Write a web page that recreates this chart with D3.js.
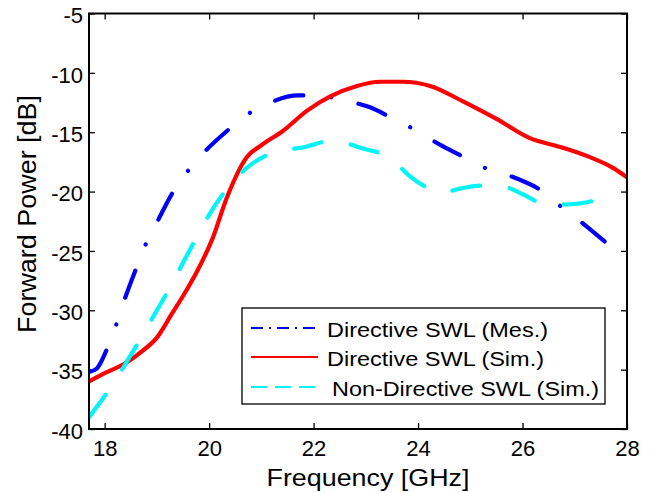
<!DOCTYPE html>
<html>
<head>
<meta charset="utf-8">
<script src="https://cdn.jsdelivr.net/npm/d3@7"></script>
<style>
  body { margin: 0; background: #fff; }
  svg { display: block; }
  text { font-family: "Liberation Sans", Arial, sans-serif; fill: #000; }
</style>
</head>
<body>
<script>
// values
const mesFreq = [17.7, 17.85, 18.06, 18.23, 18.38, 18.61, 18.79, 19.0, 19.3, 19.57, 19.88, 20.34, 20.7, 21.12, 21.7, 22.18, 22.44, 23.08, 23.5, 23.9, 24.48, 24.88, 25.28, 25.89, 26.28, 26.66, 27.16, 27.73];
const mesPower = [-35.2, -34.9, -33.1, -31.1, -29.1, -26.4, -24.4, -22.6, -20.1, -18.4, -16.8, -14.9, -13.6, -12.6, -11.9, -11.9, -12.2, -12.9, -13.8, -14.7, -16.2, -17.1, -18.0, -18.9, -19.7, -21.0, -22.7, -24.8];

const simFreq = [17.7, 18.0, 18.42, 18.7, 19.0, 19.3, 19.5, 19.76, 20.07, 20.34, 20.72, 21.0, 21.41, 21.87, 22.31, 22.83, 23.27, 23.71, 24.23, 24.86, 25.51, 26.14, 26.77, 27.29, 27.73, 28.0];
const simPower = [-36.0, -35.3, -34.4, -33.5, -32.3, -30.2, -28.8, -26.8, -23.9, -20.5, -17.1, -16.1, -14.9, -13.2, -12.0, -11.1, -10.75, -10.75, -11.1, -12.4, -13.9, -15.5, -16.3, -17.1, -18.0, -18.8];

const nonFreq = [17.7, 18.1, 18.4, 18.7, 19.0, 19.25, 19.5, 19.78, 20.05, 20.43, 20.72, 21.03, 21.31, 21.77, 22.37, 22.89, 23.5, 23.84, 24.23, 24.42, 24.86, 25.24, 25.57, 25.99, 26.52, 26.77, 27.1, 27.73];
const nonPower = [-39.0, -36.6, -34.5, -32.3, -30.0, -28.1, -26.0, -23.7, -21.6, -19.3, -18.0, -17.1, -16.6, -16.3, -15.7, -16.3, -17.3, -18.7, -19.8, -20.1, -19.7, -19.5, -19.5, -20.2, -21.2, -21.1, -21.0, -20.3];

const xTicks = [18, 20, 22, 24, 26, 28];
const yTicks = [-40, -35, -30, -25, -20, -15, -10, -5];
const legendLabels = ["Directive SWL (Mes.)", "Directive SWL (Sim.)", " Non-Directive SWL (Sim.)"];

const W = 652, H = 493;
const pLeft = 89, pRight = 627, pTop = 13.5, pBottom = 429;

const svg = d3.select("body").append("svg")
    .attr("width", W)
    .attr("height", H);

const x = d3.scaleLinear().domain([17.7, 28]).range([pLeft, pRight]);
const y = d3.scaleLinear().domain([-40, -5]).range([pBottom, pTop]);

// axes, ticks point inward like matlab
const fmt = d => String(d);
const gx = svg.append("g")
    .attr("transform", "translate(0," + pBottom + ")")
    .call(d3.axisBottom(x).tickValues(xTicks).tickSizeInner(-6).tickSizeOuter(0).tickPadding(11).tickFormat(fmt));
const gxTop = svg.append("g")
    .attr("transform", "translate(0," + pTop + ")")
    .call(d3.axisTop(x).tickValues(xTicks).tickSizeInner(-6).tickSizeOuter(0).tickFormat(""));
const gy = svg.append("g")
    .attr("transform", "translate(" + pLeft + ",0)")
    .call(d3.axisLeft(y).tickValues(yTicks).tickSizeInner(-6).tickSizeOuter(0).tickPadding(6).tickFormat(fmt));
const gyRight = svg.append("g")
    .attr("transform", "translate(" + pRight + ",0)")
    .call(d3.axisRight(y).tickValues(yTicks).tickSizeInner(-6).tickSizeOuter(0).tickFormat(""));

[gx, gxTop, gy, gyRight].forEach(g => {
    g.select(".domain").remove();
    g.selectAll(".tick line").attr("stroke", "#000").attr("stroke-width", 1.3);
    g.selectAll(".tick text")
        .attr("font-size", 22)
        .attr("font-family", "'Liberation Sans', Arial, sans-serif")
        .attr("fill", "#000");
});
gy.selectAll(".tick text").attr("dy", "0.42em");

// data lines
svg.append("clipPath").attr("id", "plotclip")
    .append("rect")
    .attr("x", pLeft).attr("y", pTop)
    .attr("width", pRight - pLeft).attr("height", pBottom - pTop);

const line = d3.line()
    .x(d => x(d[0]))
    .y(d => y(d[1]))
    .curve(d3.curveMonotoneX);

const series = [
    { f: mesFreq, p: mesPower, color: "#0000f5", dash: "29,28,0.1,28", legendDash: "12,6,2,6" },
    { f: simFreq, p: simPower, color: "#ff0000", dash: null, legendDash: null },
    { f: nonFreq, p: nonPower, color: "#00f5f5", dash: "28,30", legendDash: "16,8" }
];

const plot = svg.append("g").attr("clip-path", "url(#plotclip)");
series.forEach(s => {
    plot.append("path")
        .datum(d3.zip(s.f, s.p))
        .attr("d", line)
        .attr("fill", "none")
        .attr("stroke", s.color)
        .attr("stroke-width", 4.2)
        .attr("stroke-linecap", "round")
        .attr("stroke-linejoin", "round")
        .attr("stroke-dasharray", s.dash);
});

// frame
svg.append("rect")
    .attr("x", pLeft).attr("y", pTop)
    .attr("width", pRight - pLeft).attr("height", pBottom - pTop)
    .attr("fill", "none")
    .attr("stroke", "#000")
    .attr("stroke-width", 2);

// legend
const legend = svg.append("g");
legend.append("rect")
    .attr("x", 242).attr("y", 308)
    .attr("width", 363).attr("height", 96)
    .attr("fill", "#fff")
    .attr("stroke", "#000")
    .attr("stroke-width", 1.3);

const rowY = [328, 357, 387];
const textX = [327, 327, 332];
const textLen = [221, 217, 267];
series.forEach((s, i) => {
    legend.append("line")
        .attr("x1", 251).attr("x2", 318)
        .attr("y1", rowY[i]).attr("y2", rowY[i])
        .attr("stroke", s.color)
        .attr("stroke-width", 2.2)
        .attr("stroke-dasharray", s.legendDash);
    legend.append("text")
        .attr("x", textX[i])
        .attr("y", rowY[i] + 8.5)
        .attr("font-size", 21)
        .attr("textLength", textLen[i])
        .attr("lengthAdjust", "spacingAndGlyphs")
        .text(legendLabels[i].trim());
});

// axis labels
svg.append("text")
    .attr("x", 266.5)
    .attr("y", 485.5)
    .attr("font-size", 24)
    .attr("textLength", 203)
    .attr("lengthAdjust", "spacingAndGlyphs")
    .text("Frequency [GHz]");

svg.append("text")
    .attr("transform", "translate(36,333) rotate(-90)")
    .attr("x", 0).attr("y", 0)
    .attr("font-size", 25)
    .attr("textLength", 238)
    .attr("lengthAdjust", "spacingAndGlyphs")
    .text("Forward Power [dB]");
</script>
</body>
</html>
